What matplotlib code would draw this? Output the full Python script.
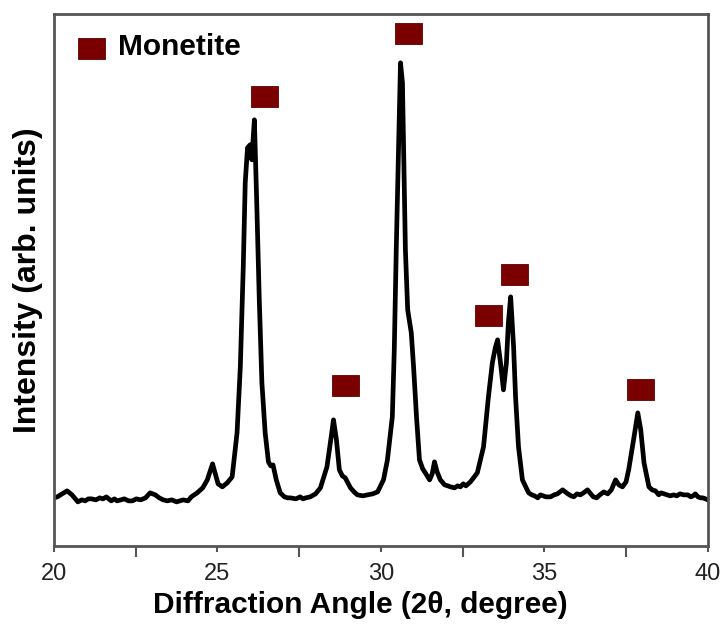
import matplotlib.pyplot as plt
from matplotlib.patches import Rectangle
from matplotlib.ticker import MultipleLocator

plt.rcParams['font.family'] = ['Liberation Sans', 'DejaVu Sans']

# XRD pattern, 2-theta (degree) vs intensity (arb. units)
two_theta = [20.00, 20.10, 20.20, 20.40, 20.55, 20.73, 20.85, 20.95, 21.05, 21.15,
             21.28, 21.40, 21.50, 21.60, 21.75, 21.85, 21.93, 22.05, 22.15, 22.28,
             22.40, 22.52, 22.65, 22.80, 22.94, 23.10, 23.22, 23.34, 23.47, 23.60,
             23.75, 23.95, 24.10, 24.20, 24.38, 24.55, 24.69, 24.85, 25.02, 25.15,
             25.30, 25.45, 25.60, 25.70, 25.79, 25.85, 25.92, 26.00, 26.05, 26.13,
             26.20, 26.28, 26.36, 26.46, 26.56, 26.63, 26.70, 26.80, 26.92, 27.05,
             27.15, 27.23, 27.40, 27.53, 27.62, 27.70, 27.84, 28.00, 28.15, 28.35,
             28.48, 28.55, 28.64, 28.73, 28.82, 28.91, 29.07, 29.18, 29.28, 29.45,
             29.59, 29.75, 29.90, 30.08, 30.20, 30.35, 30.41, 30.47, 30.54, 30.60,
             30.66, 30.70, 30.75, 30.82, 30.93, 31.00, 31.09, 31.18, 31.28, 31.36,
             31.49, 31.57, 31.64, 31.72, 31.82, 31.95, 32.05, 32.13, 32.25, 32.35,
             32.43, 32.52, 32.60, 32.74, 32.95, 33.14, 33.29, 33.41, 33.50, 33.57,
             33.66, 33.75, 33.84, 33.90, 33.97, 34.06, 34.12, 34.21, 34.33, 34.52,
             34.62, 34.70, 34.80, 34.88, 35.05, 35.19, 35.30, 35.40, 35.56, 35.72,
             35.82, 35.90, 36.00, 36.10, 36.20, 36.32, 36.42, 36.50, 36.60, 36.70,
             36.82, 36.94, 37.05, 37.18, 37.28, 37.39, 37.50, 37.58, 37.73, 37.86,
             37.95, 38.05, 38.20, 38.30, 38.40, 38.50, 38.57, 38.66, 38.75, 38.85,
             38.96, 39.05, 39.15, 39.27, 39.39, 39.48, 39.55, 39.62, 39.70, 39.78,
             39.85, 39.93, 40.00]
intensity = [48, 49, 51, 55, 51, 44, 46, 45, 47, 47,
             46, 48, 47, 49, 45, 47, 45, 46, 47, 45,
             45, 47, 46, 48, 53, 51, 48, 46, 45, 46,
             44, 46, 45, 49, 53, 58, 66, 82, 62, 59,
             63, 69, 113, 179, 279, 363, 398, 401, 386, 426,
             346, 246, 163, 113, 84, 80, 81, 66, 53, 49,
             48, 48, 47, 49, 47, 48, 49, 52, 58, 79,
             109, 126, 106, 76, 70, 68, 58, 54, 51, 50,
             51, 52, 54, 66, 86, 129, 196, 296, 396, 483,
             463, 386, 296, 236, 213, 179, 129, 86, 77, 73,
             66, 72, 84, 74, 66, 61, 60, 59, 58, 60,
             59, 62, 60, 64, 73, 99, 149, 183, 198, 206,
             183, 156, 183, 223, 249, 199, 149, 99, 66, 53,
             51, 50, 48, 51, 49, 49, 51, 52, 56, 52,
             50, 49, 52, 51, 53, 56, 52, 49, 48, 51,
             54, 52, 56, 66, 61, 59, 64, 76, 106, 133,
             116, 83, 59, 56, 55, 51, 53, 52, 51, 50,
             51, 50, 52, 51, 51, 49, 50, 52, 49, 48,
             48, 47, 46]

# Monetite reflections: marker position (2-theta, height)
mon_theta = [26.43, 28.91, 30.84, 33.28, 34.09, 37.95]
mon_height = [449, 160, 512, 230, 271, 156]
mon_color = '#7a0000'

fig = plt.figure(figsize=(7.2, 6.26), dpi=100)
fig.patch.set_facecolor('white')
ax = fig.add_axes([0.075, 0.128, 0.908, 0.85])

ax.plot(two_theta, intensity, c='black', linewidth=3.4,
        solid_joinstyle='round', solid_capstyle='round')

w, h = 0.83, 21
for t, y in zip(mon_theta, mon_height):
    ax.add_patch(Rectangle((t - w / 2, y - h / 2), w, h, facecolor=mon_color,
                           edgecolor='#5a0000', linewidth=0.6, zorder=3))
# legend entry
ax.add_patch(Rectangle((21.16 - w / 2, 497 - h / 2), w, h, facecolor=mon_color,
                       edgecolor='#5a0000', linewidth=0.6, zorder=3))
ax.text(21.95, 499, 'Monetite', fontsize=21.5, fontweight='bold', va='center', ha='left')

ax.set_xlim(20, 40)
ax.set_ylim(0, 532)
ax.xaxis.set_major_locator(MultipleLocator(5))
ax.xaxis.set_minor_locator(MultipleLocator(2.5))
ax.tick_params(axis='x', which='major', direction='out', length=4, width=1.5,
               color='#555555', labelsize=17, labelcolor='#222222', pad=8)
ax.tick_params(axis='x', which='minor', direction='out', length=8, width=1.5,
               color='#555555')
ax.set_yticks([])
for s in ax.spines.values():
    s.set_color('#555555')
    s.set_linewidth(2)

ax.set_xlabel('Diffraction Angle (2θ, degree)', fontsize=21.5, fontweight='bold')
ax.xaxis.set_label_coords(0.468, -0.085)
ax.set_ylabel('Intensity (arb. units)', fontsize=23, fontweight='bold', labelpad=8)

plt.savefig('out.png', dpi=100)
